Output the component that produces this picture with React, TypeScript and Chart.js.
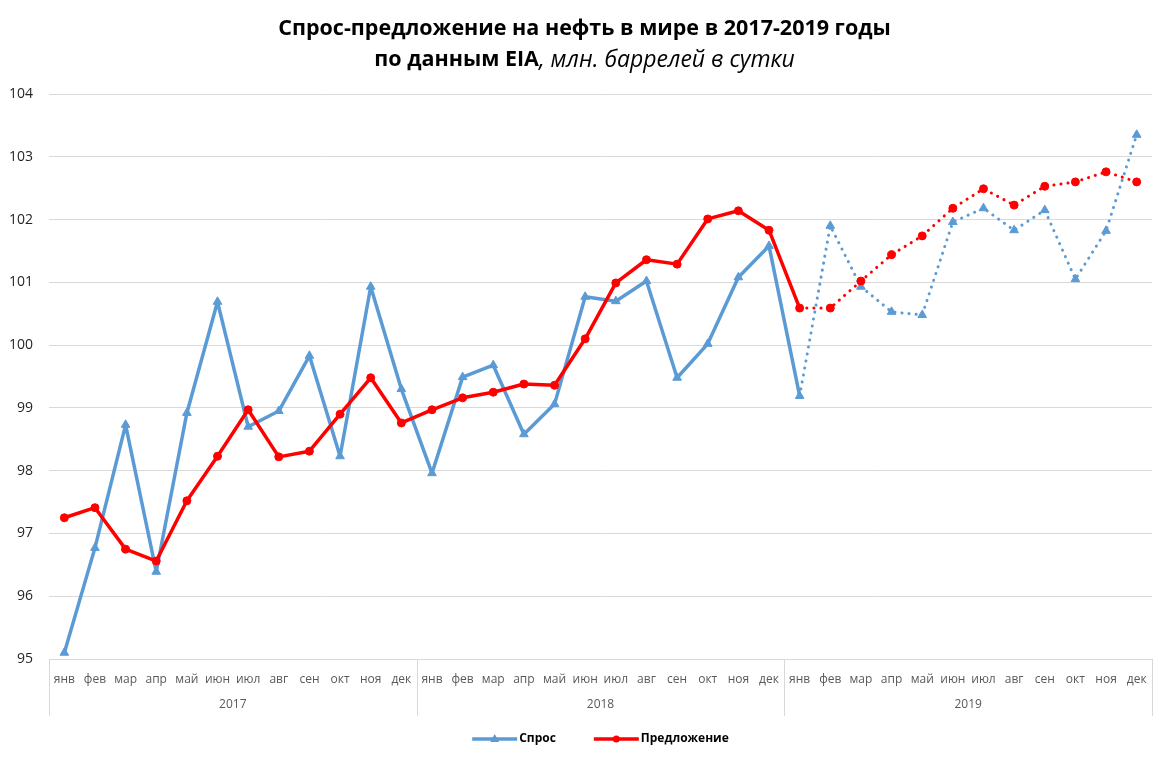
import React, { useEffect, useRef } from 'react';
import { Chart, registerables } from 'chart.js';

Chart.register(...registerables);

const FONT = "'Open Sans', 'DejaVu Sans', sans-serif";

const titleLine1 = 'Спрос-предложение на нефть в мире в 2017-2019 годы';
const titleBold2 = 'по данным EIA';
const titleItalic2 = ', млн. баррелей в сутки';

const months = ['янв', 'фев', 'мар', 'апр', 'май', 'июн', 'июл', 'авг', 'сен', 'окт', 'ноя', 'дек'];
const years = ['2017', '2018', '2019'];
const categories = years.flatMap(() => months);

const demandLabel = 'Спрос';
const supplyLabel = 'Предложение';

const demand = [
  95.1, 96.77, 98.73, 96.39, 98.92, 100.69, 98.7, 98.95, 99.83, 98.23, 100.93, 99.3,
  97.96, 99.49, 99.68, 98.58, 99.06, 100.77, 100.7, 101.02, 99.48, 100.02, 101.08, 101.58,
  99.19, 101.9, 100.93, 100.53, 100.48, 101.96, 102.18, 101.83, 102.15, 101.05, 101.82, 103.35,
];

const supply = [
  97.25, 97.41, 96.75, 96.56, 97.52, 98.23, 98.97, 98.22, 98.31, 98.9, 99.48, 98.76,
  98.97, 99.16, 99.25, 99.38, 99.36, 100.1, 100.99, 101.36, 101.29, 102.01, 102.14, 101.83,
  100.59, 100.59, 101.02, 101.44, 101.74, 102.18, 102.49, 102.23, 102.53, 102.6, 102.76, 102.6,
];

const yMin = 95;
const yMax = 104;
const forecastStart = 24;

const BLUE = '#5B9BD5';
const RED = '#FF0000';

const decorPlugin = {
  id: 'decor',
  afterDraw(chart: any) {
    const { ctx, chartArea, scales } = chart;
    const x = scales.x;
    ctx.save();

    // Title
    const cx = chart.width / 2 - 2;
    ctx.fillStyle = '#000';
    ctx.textBaseline = 'middle';
    ctx.textAlign = 'left';
    ctx.font = `bold 21.5px ${FONT}`;
    const w1 = ctx.measureText(titleLine1).width;
    ctx.fillText(titleLine1, cx - w1 / 2, 29);
    const wb = ctx.measureText(titleBold2).width;
    ctx.font = `italic 23px ${FONT}`;
    const wi = ctx.measureText(titleItalic2).width;
    const start2 = cx - (wb + wi) / 2;
    ctx.font = `bold 21.5px ${FONT}`;
    ctx.fillText(titleBold2, start2, 60);
    ctx.font = `italic 23px ${FONT}`;
    ctx.fillText(titleItalic2, start2 + wb, 60);

    // Group separators and year labels
    const bottom = chartArea.bottom;
    const sepBottom = 716;
    const bounds: number[] = [chartArea.left];
    for (let g = 1; g < years.length; g++) {
      const i = g * months.length;
      bounds.push((x.getPixelForValue(i - 1) + x.getPixelForValue(i)) / 2);
    }
    bounds.push(chartArea.right);
    ctx.strokeStyle = '#d9d9d9';
    ctx.lineWidth = 1;
    ctx.beginPath();
    bounds.forEach((b) => {
      const bx = Math.round(b) + 0.5;
      ctx.moveTo(bx, bottom);
      ctx.lineTo(bx, sepBottom);
    });
    ctx.stroke();

    ctx.fillStyle = '#595959';
    ctx.font = `12px ${FONT}`;
    ctx.textAlign = 'center';
    years.forEach((y, g) => {
      ctx.fillText(y, (bounds[g] + bounds[g + 1]) / 2, 705);
    });

    // Legend
    const items = [
      { label: demandLabel, color: BLUE, marker: 'triangle' },
      { label: supplyLabel, color: RED, marker: 'circle' },
    ];
    ctx.font = `bold 12px ${FONT}`;
    const lineLen = 45;
    const gapText = 2;
    const gapItems = 38;
    const widths = items.map((it) => lineLen + gapText + ctx.measureText(it.label).width);
    const total = widths.reduce((a, b) => a + b, 0) + gapItems * (items.length - 1);
    let lx = (chartArea.left + chartArea.right) / 2 - total / 2;
    const ly = 739;
    items.forEach((it, k) => {
      ctx.strokeStyle = it.color;
      ctx.fillStyle = it.color;
      ctx.lineWidth = 3.5;
      ctx.beginPath();
      ctx.moveTo(lx, ly);
      ctx.lineTo(lx + lineLen, ly);
      ctx.stroke();
      const mx = lx + lineLen / 2;
      ctx.beginPath();
      if (it.marker === 'triangle') {
        ctx.moveTo(mx, ly - 5);
        ctx.lineTo(mx + 4.5, ly + 3);
        ctx.lineTo(mx - 4.5, ly + 3);
        ctx.closePath();
      } else {
        ctx.arc(mx, ly, 3.5, 0, Math.PI * 2);
      }
      ctx.fill();
      ctx.fillStyle = '#000';
      ctx.textAlign = 'left';
      ctx.fillText(it.label, lx + lineLen + gapText, ly);
      lx += widths[k] + gapItems;
    });

    ctx.restore();
  },
};

const dottedSegment = (width: number) => ({
  borderDash: (c: any) => (c.p0DataIndex >= forecastStart ? [0.1, 7] : undefined),
  borderWidth: (c: any) => (c.p0DataIndex >= forecastStart ? 3 : width),
});

export default function App() {
  const canvasRef = useRef<HTMLCanvasElement | null>(null);

  useEffect(() => {
    if (!canvasRef.current) return;
    const chart = new Chart(canvasRef.current, {
      type: 'line',
      data: {
        labels: categories,
        datasets: [
          {
            label: demandLabel,
            data: demand,
            borderColor: BLUE,
            backgroundColor: BLUE,
            borderWidth: 3.5,
            borderCapStyle: 'round',
            borderJoinStyle: 'round',
            pointStyle: 'triangle',
            pointRadius: 5,
            pointBorderWidth: 1,
            pointBackgroundColor: BLUE,
            pointBorderColor: BLUE,
            segment: dottedSegment(3.5),
            order: 1,
          },
          {
            label: supplyLabel,
            data: supply,
            borderColor: RED,
            backgroundColor: RED,
            borderWidth: 3.5,
            borderCapStyle: 'round',
            borderJoinStyle: 'round',
            pointStyle: 'circle',
            pointRadius: 4,
            pointBorderWidth: 1,
            pointBackgroundColor: RED,
            pointBorderColor: RED,
            segment: dottedSegment(3.5),
            order: 0,
          },
        ],
      } as any,
      options: {
        animation: false,
        responsive: true,
        maintainAspectRatio: false,
        layout: { padding: { top: 94, bottom: 80, left: 0, right: 21 } },
        plugins: {
          legend: { display: false },
          title: { display: false },
          tooltip: { enabled: false },
        },
        scales: {
          x: {
            type: 'category',
            offset: true,
            grid: { display: false, drawTicks: false },
            border: { display: true, color: '#d9d9d9', width: 1 },
            ticks: {
              autoSkip: false,
              maxRotation: 0,
              minRotation: 0,
              padding: 13,
              color: '#595959',
              font: { family: FONT, size: 12 },
            },
            afterFit: (s: any) => {
              s.height = 30;
            },
          },
          y: {
            min: yMin,
            max: yMax,
            ticks: {
              stepSize: 1,
              padding: 16,
              color: '#262626',
              font: { family: FONT, size: 14 },
            },
            grid: { color: '#d9d9d9', lineWidth: 1, drawTicks: false },
            border: { display: false },
            afterFit: (s: any) => {
              s.width = 49;
            },
          },
        },
      } as any,
      plugins: [decorPlugin],
    });
    return () => chart.destroy();
  }, []);

  return (
    <div style={{ position: 'fixed', left: 0, top: 0, width: 1173, height: 769, background: '#fff' }}>
      <canvas ref={canvasRef} />
    </div>
  );
}
